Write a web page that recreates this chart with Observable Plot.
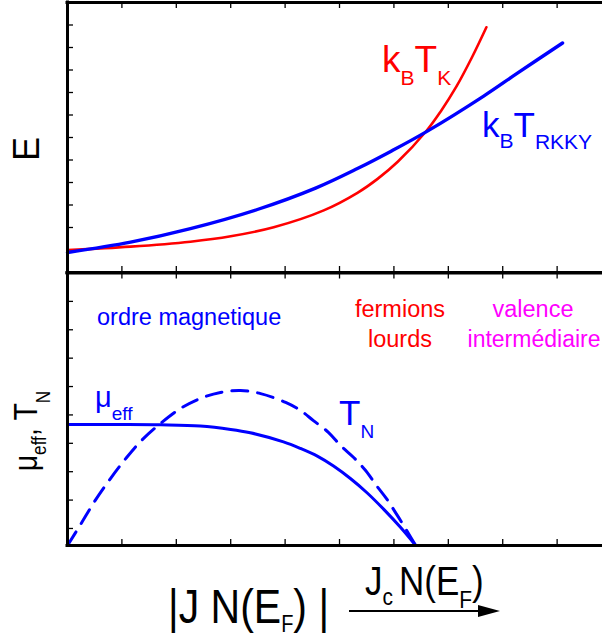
<!DOCTYPE html>
<html><head><meta charset="utf-8">
<script src="https://cdn.jsdelivr.net/npm/d3@7"></script>
<script src="https://cdn.jsdelivr.net/npm/@observablehq/plot@0.6"></script>
<style>
html,body{margin:0;padding:0;background:#fff;overflow:hidden;}
#wrap{position:relative;width:602px;height:636px;overflow:hidden;font-family:"Liberation Sans",Arial,sans-serif;}
#wrap > svg{position:absolute;left:0;}
</style></head><body><div id="wrap"></div>
<script>
// ---- data ----
const xTicks = [1, 2, 3, 4, 5, 6, 7, 8, 9];
const topYTicks = [1, 2, 3, 4, 5, 6, 7, 8, 9, 10, 11];
const bottomYTicks = [0.6, 1.6, 2.6, 3.6, 4.6, 5.6, 6.6, 7.6, 8.6];

// top panel: energies vs |J N(EF)|
const rkkyX = [0, 1.16, 2.26, 3.49, 4.56, 5.33, 5.94, 6.60, 7.65, 8.27, 9.10];
const rkkyY = [0.89, 1.35, 1.95, 2.80, 3.75, 4.62, 5.38, 6.26, 7.84, 8.86, 10.2];
const kondoX = [0, 1.16, 2.26, 3.0, 3.79, 4.71, 5.33, 5.70, 6.07, 6.60, 6.86, 7.15, 7.44, 7.70];
const kondoY = [1.0, 1.15, 1.37, 1.61, 2.01, 2.76, 3.54, 4.16, 4.92, 6.30, 7.16, 8.27, 9.59, 10.9];

// bottom panel: mu_eff (solid) and T_N (dashed)
const muX = [0, 1.0, 1.71, 2.44, 3.0, 3.36, 3.97, 4.28, 4.60, 4.89, 5.20, 5.51, 5.81, 6.12, 6.40];
const muY = [4.26, 4.26, 4.25, 4.21, 4.09, 3.97, 3.65, 3.42, 3.14, 2.80, 2.36, 1.85, 1.28, 0.64, 0];
const tnX = [0, 0.24, 0.51, 0.79, 1.07, 1.34, 1.71, 2.08, 2.44, 2.81, 3.18, 3.55, 4.01, 4.28, 4.52, 4.80, 5.02, 5.26, 5.48, 5.68, 5.86, 6.03, 6.18, 6.40];
const tnY = [0, 0.74, 1.59, 2.36, 3.06, 3.66, 4.30, 4.83, 5.18, 5.39, 5.46, 5.35, 5.04, 4.76, 4.40, 3.98, 3.52, 3.10, 2.64, 2.11, 1.66, 1.16, 0.70, 0];

const rkky = rkkyX.map((x, i) => ({x, y: rkkyY[i]}));
const kondo = kondoX.map((x, i) => ({x, y: kondoY[i]}));
const mu = muX.map((x, i) => ({x, y: muY[i]}));
const tn = tnX.map((x, i) => ({x, y: tnY[i]}));

const BLUE = "#0000ff", RED = "#ff0000", MAGENTA = "#ff00ff";
const xDomain = [0, 9.834];
const wrap = document.getElementById("wrap");

function tickMarks(yTicks, innerH, innerW) {
  const tk = 6;
  return [
    Plot.ruleX(xTicks, {stroke: "#000", strokeWidth: 1.3, insetBottom: innerH - tk}),
    Plot.ruleX(xTicks, {stroke: "#000", strokeWidth: 1.3, insetTop: innerH - tk}),
    Plot.ruleY(yTicks, {stroke: "#000", strokeWidth: 1.3, insetRight: innerW - tk}),
  ];
}
function frameLines(yMax) {
  return [
    Plot.ruleY([0], {stroke: "#000", strokeWidth: 3, strokeLinecap: "square"}),
    Plot.ruleY([yMax], {stroke: "#000", strokeWidth: 3, strokeLinecap: "square"}),
    Plot.ruleX([0], {stroke: "#000", strokeWidth: 3, strokeLinecap: "square"}),
  ];
}

// top panel
const topH = 274, topMT = 2, topMB = 2;
const topPlot = Plot.plot({
  width: 602, height: topH, marginLeft: 67, marginRight: 0, marginTop: topMT, marginBottom: topMB,
  x: {domain: xDomain, axis: null},
  y: {domain: [0, 12], axis: null},
  marks: [
    ...tickMarks(topYTicks, topH - topMT - topMB, 602 - 67),
    Plot.line(kondo, {x: "x", y: "y", stroke: RED, strokeWidth: 2.6, curve: "catmull-rom"}),
    Plot.line(rkky, {x: "x", y: "y", stroke: BLUE, strokeWidth: 3.4, curve: "catmull-rom"}),
    ...frameLines(12)
  ]
});
topPlot.style.top = "0px";
wrap.appendChild(topPlot);

// bottom panel
const botTop = 270, botH = 278, botMT = 2.5, botMB = 3;
const bottomPlot = Plot.plot({
  width: 602, height: botH, marginLeft: 67, marginRight: 0, marginTop: botMT, marginBottom: botMB,
  x: {domain: xDomain, axis: null},
  y: {domain: [0, 9.6], axis: null},
  marks: [
    ...tickMarks(bottomYTicks, botH - botMT - botMB, 602 - 67),
    Plot.line(tn, {x: "x", y: "y", stroke: BLUE, strokeWidth: 3, strokeDasharray: "16,10", curve: "catmull-rom"}),
    Plot.line(mu, {x: "x", y: "y", stroke: BLUE, strokeWidth: 3, curve: "catmull-rom"}),
    ...frameLines(9.6)
  ]
});
bottomPlot.style.top = botTop + "px";
wrap.appendChild(bottomPlot);

// ---- text overlay ----
const svg = d3.select(wrap).append("svg")
  .attr("width", 602).attr("height", 636)
  .style("top", "0px").style("pointer-events", "none")
  .attr("font-family", '"Liberation Sans", Arial, Helvetica, sans-serif');

function label({x, y, rotate = 0, anchor = "start", color = "#000", scaleX = 1, scaleY = 1, parts}) {
  const t = svg.append("text")
    .attr("transform", `translate(${x},${y}) rotate(${rotate}) scale(${scaleX},${scaleY})`)
    .attr("text-anchor", anchor).attr("fill", color);
  let prev = 0;
  for (const [txt, size, shift = 0, dx = 0] of parts) {
    t.append("tspan").attr("font-size", size).attr("dy", shift - prev).attr("dx", dx).text(txt);
    prev = shift;
  }
}

label({x: 39, y: 149, rotate: -90, anchor: "middle", parts: [["E", 36]]});
label({x: 37, y: 431, rotate: -90, anchor: "middle", scaleX: 0.86,
  parts: [["\u03bc", 33], ["eff", 20, 9], [",", 33, 0], ["T", 33, 0, 9], ["N", 20, 13]]});

label({x: 382, y: 72, color: RED, parts: [["k", 37], ["B", 21, 13], ["T", 37, 0], ["K", 21, 13]]});
label({x: 482, y: 137, color: BLUE, parts: [["k", 35], ["B", 21, 11], ["T", 35, 0], ["RKKY", 21, 12]]});

label({x: 97, y: 325, color: BLUE, parts: [["ordre magnetique", 23.5]]});
label({x: 400, y: 317, anchor: "middle", color: RED, parts: [["fermions", 23.5]]});
label({x: 400, y: 347, anchor: "middle", color: RED, parts: [["lourds", 23.5]]});
label({x: 533, y: 317, anchor: "middle", color: MAGENTA, parts: [["valence", 23.5]]});
label({x: 534, y: 347, anchor: "middle", color: MAGENTA, parts: [["intermédiaire", 23]]});

label({x: 95, y: 407, color: BLUE, parts: [["\u03bc", 29], ["eff", 19, 13]]});
label({x: 339, y: 425, color: BLUE, parts: [["T", 35], ["N", 19, 13]]});

label({x: 168, y: 623, scaleY: 1.15, parts: [["|J N(E", 41], ["F", 20, 7.8], [") |", 41, 0]]});
label({x: 365, y: 595, scaleY: 1.15, parts: [["J", 35], ["c", 21, 9], ["N(E", 35, 0, 6], ["F", 21, 11], [")", 35, 0]]});

svg.append("line").attr("x1", 349).attr("x2", 482).attr("y1", 611).attr("y2", 611)
  .attr("stroke", "#000").attr("stroke-width", 2);
svg.append("path").attr("d", "M478,605 L500,611 L478,617 Z").attr("fill", "#000");
</script></body></html>
